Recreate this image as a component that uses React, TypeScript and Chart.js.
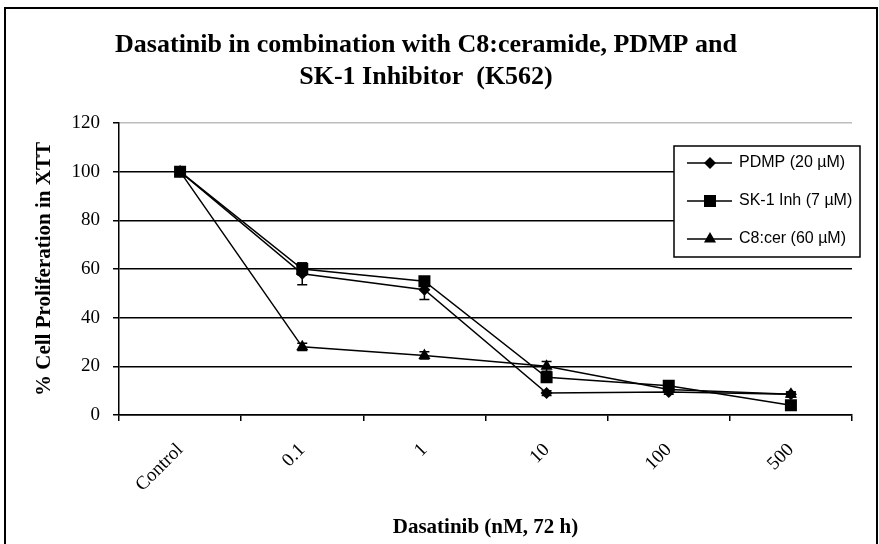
import React, { useEffect, useRef } from 'react';
import { Chart, registerables } from 'chart.js';

Chart.register(...registerables);

const categories = ['Control', '0.1', '1', '10', '100', '500'];
const pdmpValues = [100, 58, 51.5, 9, 9.5, 8.5];
const pdmpErrors = [0, 4.5, 4, 1, 1, 1];
const sk1Values = [100, 60, 55, 15.5, 12, 4];
const sk1Errors = [0, 2.5, 1.5, 2, 1.5, 1];
const c8Values = [100, 28, 24.5, 20, 10.5, 8.5];
const c8Errors = [0, 1.5, 1.5, 2, 1, 1];
const seriesLabels = ['PDMP (20 µM)', 'SK-1 Inh (7 µM)', 'C8:cer (60 µM)'];
const titleLines = ['Dasatinib in combination with C8:ceramide, PDMP and', 'SK-1 Inhibitor  (K562)'];
const yTitle = '% Cell Proliferation in XTT';
const xTitle = 'Dasatinib (nM, 72 h)';

const SERIF = "'Liberation Serif', 'Times New Roman', serif";
const SANS = "'Liberation Sans', Arial, sans-serif";

function markerPath(ctx: CanvasRenderingContext2D, style: string, x: number, y: number) {
  ctx.beginPath();
  if (style === 'rectRot') {
    const r = 6;
    ctx.moveTo(x, y - r);
    ctx.lineTo(x + r, y);
    ctx.lineTo(x, y + r);
    ctx.lineTo(x - r, y);
  } else if (style === 'rect') {
    const s = 6;
    ctx.rect(x - s, y - s, 2 * s, 2 * s);
  } else {
    const r = 7;
    ctx.moveTo(x, y - r);
    ctx.lineTo(x + r * 0.866, y + r * 0.5);
    ctx.lineTo(x - r * 0.866, y + r * 0.5);
  }
  ctx.closePath();
  ctx.fill();
}

const frameAndLegendPlugin = {
  id: 'frameAndLegend',
  afterDatasetsDraw(chart: any) {
    const ctx = chart.ctx as CanvasRenderingContext2D;
    const yScale = chart.scales.y;
    ctx.save();
    ctx.strokeStyle = '#000';
    ctx.lineWidth = 1.5;
    chart.data.datasets.forEach((ds: any, di: number) => {
      const meta = chart.getDatasetMeta(di);
      meta.data.forEach((pt: any, i: number) => {
        const e = ds.errors[i];
        if (!e) return;
        const v = ds.data[i];
        const top = yScale.getPixelForValue(v + e);
        const bot = yScale.getPixelForValue(v - e);
        ctx.beginPath();
        ctx.moveTo(pt.x, top);
        ctx.lineTo(pt.x, bot);
        ctx.moveTo(pt.x - 5, top);
        ctx.lineTo(pt.x + 5, top);
        ctx.moveTo(pt.x - 5, bot);
        ctx.lineTo(pt.x + 5, bot);
        ctx.stroke();
      });
    });
    ctx.restore();
  },
  afterDraw(chart: any) {
    const ctx = chart.ctx as CanvasRenderingContext2D;
    ctx.save();
    ctx.strokeStyle = '#000';
    ctx.lineWidth = 2;
    ctx.strokeRect(5, 8, 872, 540);
    const bx = 674, by = 146, bw = 186, bh = 111;
    ctx.fillStyle = '#fff';
    ctx.fillRect(bx, by, bw, bh);
    ctx.lineWidth = 1.5;
    ctx.strokeRect(bx, by, bw, bh);
    chart.data.datasets.forEach((ds: any, i: number) => {
      const y = 163 + i * 38;
      ctx.strokeStyle = '#000';
      ctx.lineWidth = 1.5;
      ctx.beginPath();
      ctx.moveTo(687, y);
      ctx.lineTo(732, y);
      ctx.stroke();
      ctx.fillStyle = '#000';
      markerPath(ctx, ds.pointStyle, 710, y);
      ctx.font = `16px ${SANS}`;
      ctx.textAlign = 'left';
      ctx.textBaseline = 'middle';
      ctx.fillText(ds.label, 739, y);
    });
    ctx.restore();
  },
};

export default function App() {
  const ref = useRef<HTMLCanvasElement>(null);
  useEffect(() => {
    if (!ref.current) return;
    const mk = (label: string, data: number[], errors: number[], style: string, radius: number) => ({
      label,
      data,
      errors,
      pointStyle: style,
      pointRadius: radius,
      pointHoverRadius: radius,
      borderColor: '#000',
      backgroundColor: '#000',
      pointBackgroundColor: '#000',
      pointBorderColor: '#000',
      pointBorderWidth: 0,
      borderWidth: 1.5,
      tension: 0,
      fill: false,
    });
    const chart = new Chart(ref.current, {
      type: 'line',
      data: {
        labels: categories,
        datasets: [
          mk(seriesLabels[0], pdmpValues, pdmpErrors, 'rectRot', 6),
          mk(seriesLabels[1], sk1Values, sk1Errors, 'rect', 8.5),
          mk(seriesLabels[2], c8Values, c8Errors, 'triangle', 7),
        ] as any,
      },
      options: {
        animation: false,
        responsive: false,
        devicePixelRatio: 1,
        layout: { padding: { left: 0, right: 27, top: 0, bottom: 0 } },
        plugins: {
          legend: { display: false },
          tooltip: { enabled: false },
          title: {
            display: true,
            text: titleLines,
            color: '#000',
            font: { family: SERIF, size: 26, weight: 'bold', lineHeight: 1.2 },
            padding: { top: 30, bottom: 30.6 },
          },
        },
        scales: {
          x: {
            type: 'category',
            offset: true,
            afterFit: (s: any) => { s.height = 129; },
            grid: { offset: true, drawOnChartArea: false, color: '#000', lineWidth: 1.5, tickLength: 6 },
            border: { display: true, color: '#000', width: 1.5 },
            ticks: {
              autoSkip: false,
              minRotation: 45,
              maxRotation: 45,
              padding: 18,
              color: '#000',
              font: { family: SERIF, size: 19 },
            },
            title: {
              display: true,
              text: xTitle,
              color: '#000',
              font: { family: SERIF, size: 21, weight: 'bold', lineHeight: 1.2 },
              padding: { top: 0, bottom: 4 },
            },
          },
          y: {
            min: 0,
            max: 120,
            afterFit: (s: any) => { s.width = 119; },
            grid: {
              color: (c: any) => (c.tick && c.tick.value === 120 ? '#bdbdbd' : '#000'),
              lineWidth: 1.5,
              tickLength: 6,
              tickColor: '#000',
            },
            border: { display: true, color: '#000', width: 1.5 },
            ticks: {
              stepSize: 20,
              padding: 13,
              color: '#000',
              font: { family: SERIF, size: 19 },
            },
            title: {
              display: true,
              text: yTitle,
              color: '#000',
              font: { family: SERIF, size: 21, weight: 'bold', lineHeight: 1.2 },
              padding: { top: 32, bottom: 0 },
            },
          },
        },
      } as any,
      plugins: [frameAndLegendPlugin],
    });
    return () => chart.destroy();
  }, []);
  return (
    <div style={{ position: 'absolute', left: 0, top: 0, width: 879, height: 544, background: '#fff' }}>
      <canvas ref={ref} width={879} height={544} style={{ display: 'block' }} />
    </div>
  );
}
